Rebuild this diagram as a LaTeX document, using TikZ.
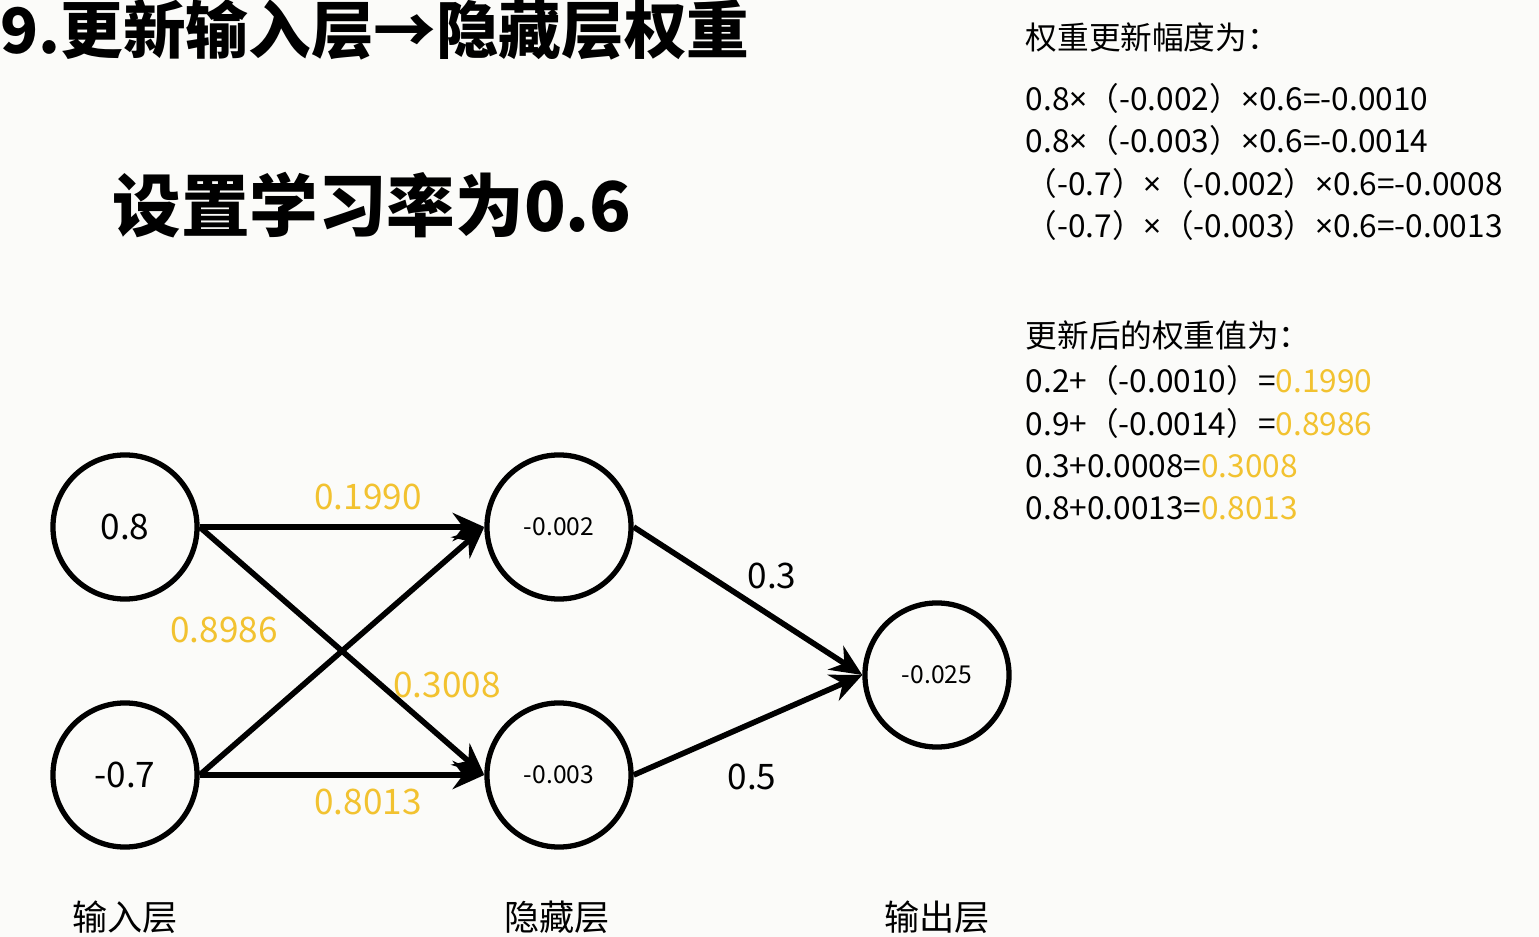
\documentclass[tikz,border=0pt]{standalone}
\usepackage{fontspec}
\setmainfont{Noto Sans CJK SC}
\newfontfamily\latinf{Noto Sans}
\usetikzlibrary{arrows.meta}
\definecolor{gold}{HTML}{F2C230}
\definecolor{bg}{HTML}{FBFBF9}
\newcommand{\tms}{{\latinf ×}}
\begin{document}
\begin{tikzpicture}[x=0.01cm,y=-0.01cm,
  neuron/.style={circle,draw=black,line width=1.5pt,minimum size=1.44cm,inner sep=0pt},
  conn/.style={line width=1.6pt,-{Stealth[length=9pt,width=8pt]}},
  wl/.style={text=gold,font=\fontsize{10}{12}\selectfont},
  bl/.style={font=\fontsize{10}{12}\selectfont},
  rt/.style={anchor=west,font=\fontsize{9}{11}\selectfont,inner sep=0pt}]
\fill[bg] (0,0) rectangle (1539,937);
\useasboundingbox (0,0) rectangle (1539,937);
\node[anchor=west,inner sep=0pt,font=\fontsize{17.8}{20}\selectfont\bfseries] (t) at (0,30) {9.更新输入层→隐藏层权重};
\node[anchor=west,inner sep=0pt,font=\fontsize{19.5}{24}\selectfont\bfseries] (lr) at (112,205) {设置学习率为0.6};
\node[neuron,font=\fontsize{10}{12}\selectfont] (i1) at (125,527) {0.8};
\node[neuron,font=\fontsize{10}{12}\selectfont] (i2) at (125,775) {-0.7};
\node[neuron,font=\fontsize{7}{9}\selectfont] (h1) at (559,527) {-0.002};
\node[neuron,font=\fontsize{7}{9}\selectfont] (h2) at (559,775) {-0.003};
\node[neuron,font=\fontsize{7}{9}\selectfont] (o) at (937,675) {-0.025};
\draw[conn] (i1.east) -- (h1.west);
\draw[conn] (i1.east) -- (h2.west);
\draw[conn] (i2.east) -- (h1.west);
\draw[conn] (i2.east) -- (h2.west);
\draw[conn] (h1.east) -- (o.west);
\draw[conn] (h2.east) -- (o.west);
\node[wl] (w1) at (368,497) {0.1990};
\node[wl] (w2) at (224,630) {0.8986};
\node[wl] (w3) at (447,685) {0.3008};
\node[wl] (w4) at (368,802) {0.8013};
\node[bl] (w5) at (772,576) {0.3};
\node[bl] (w6) at (752,777) {0.5};
\node[bl] (l1) at (125,917) {输入层};
\node[bl] (l2) at (557,917) {隐藏层};
\node[bl] (l3) at (937,917) {输出层};
\node[rt] (r0) at (1025,37) {权重更新幅度为：};
\node[rt] (r1) at (1025,98) {0.8\tms（-0.002）\tms0.6=-0.0010};
\node[rt] (r2) at (1025,140) {0.8\tms（-0.003）\tms0.6=-0.0014};
\node[rt] (r3) at (1025,183) {（-0.7）\tms（-0.002）\tms0.6=-0.0008};
\node[rt] (r4) at (1025,225) {（-0.7）\tms（-0.003）\tms0.6=-0.0013};
\node[rt] (s0) at (1025,335) {更新后的权重值为：};
\node[rt] (s1) at (1025,380) {0.2+（-0.0010）=\textcolor{gold}{0.1990}};
\node[rt] (s2) at (1025,423) {0.9+（-0.0014）=\textcolor{gold}{0.8986}};
\node[rt] (s3) at (1025,466) {0.3+0.0008=\textcolor{gold}{0.3008}};
\node[rt] (s4) at (1025,508) {0.8+0.0013=\textcolor{gold}{0.8013}};
\end{tikzpicture}
\end{document}
